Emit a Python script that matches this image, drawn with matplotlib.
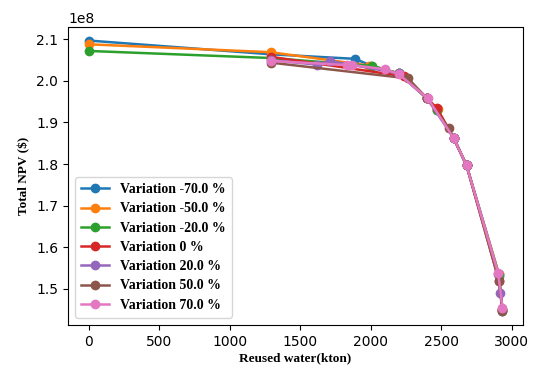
import numpy as np
import matplotlib
matplotlib.use("Agg")
import matplotlib.pyplot as plt

# reused water (kton) and total NPV ($, x1e8) for each price variation
labels = ["Variation -70.0 %", "Variation -50.0 %", "Variation -20.0 %",
          "Variation 0 %", "Variation 20.0 %", "Variation 50.0 %",
          "Variation 70.0 %"]

water_m70 = [0, 1290, 1890, 2000, 2200, 2400, 2470, 2590, 2680, 2910, 2935]
npv_m70 = [2.097, 2.064, 2.053, 2.037, 2.018, 1.958, 1.930, 1.862, 1.797, 1.535, 1.447]

water_m50 = [0, 1290, 1990, 2200, 2400, 2475, 2590, 2680, 2910, 2935]
npv_m50 = [2.088, 2.069, 2.037, 2.018, 1.958, 1.932, 1.862, 1.797, 1.535, 1.450]

water_m20 = [0, 1290, 2010, 2200, 2400, 2470, 2590, 2680, 2910, 2935]
npv_m20 = [2.072, 2.055, 2.036, 2.018, 1.958, 1.931, 1.862, 1.797, 1.530, 1.452]

water_0 = [1290, 2240, 2400, 2470, 2590, 2680, 2910, 2935]
npv_0 = [2.058, 2.011, 1.958, 1.934, 1.862, 1.797, 1.520, 1.448]

water_p20 = [1290, 1620, 1710, 2200, 2400, 2590, 2680, 2905, 2918]
npv_p20 = [2.050, 2.039, 2.048, 2.018, 1.958, 1.862, 1.797, 1.535, 1.490]

water_p50 = [1290, 2265, 2400, 2555, 2680, 2910, 2935]
npv_p50 = [2.044, 2.006, 1.958, 1.886, 1.797, 1.520, 1.446]

water_p70 = [1290, 1835, 1870, 2105, 2200, 2405, 2590, 2680, 2905, 2935]
npv_p70 = [2.048, 2.038, 2.038, 2.028, 2.016, 1.958, 1.862, 1.797, 1.537, 1.455]

waters = [water_m70, water_m50, water_m20, water_0, water_p20, water_p50, water_p70]
npvs = [npv_m70, npv_m50, npv_m20, npv_0, npv_p20, npv_p50, npv_p70]

fig = plt.figure(figsize=(5.36, 3.70), dpi=100)
ax = fig.add_axes([0.127, 0.122, 0.849, 0.805])

for w, v, lab in zip(waters, npvs, labels):
    ax.plot(w, np.array(v) * 1e8, marker="o", markersize=6, linewidth=1.8, label=lab)

ax.tick_params(labelsize=10)
ax.set_xticks([0, 500, 1000, 1500, 2000, 2500, 3000])
ax.yaxis.get_offset_text().set_fontsize(10)

serif_bold = dict(family="Liberation Serif", weight="bold", size=9.5)
ax.set_xlabel("Reused water(kton)", fontdict=serif_bold, labelpad=3)
ax.set_ylabel("Total NPV ($)", fontdict=serif_bold)

ax.legend(loc="lower left", prop=dict(family="Liberation Serif", weight="bold", size=10),
          handlelength=2.0, labelspacing=0.45, borderpad=0.45)

fig.savefig("out.png", dpi=100)
